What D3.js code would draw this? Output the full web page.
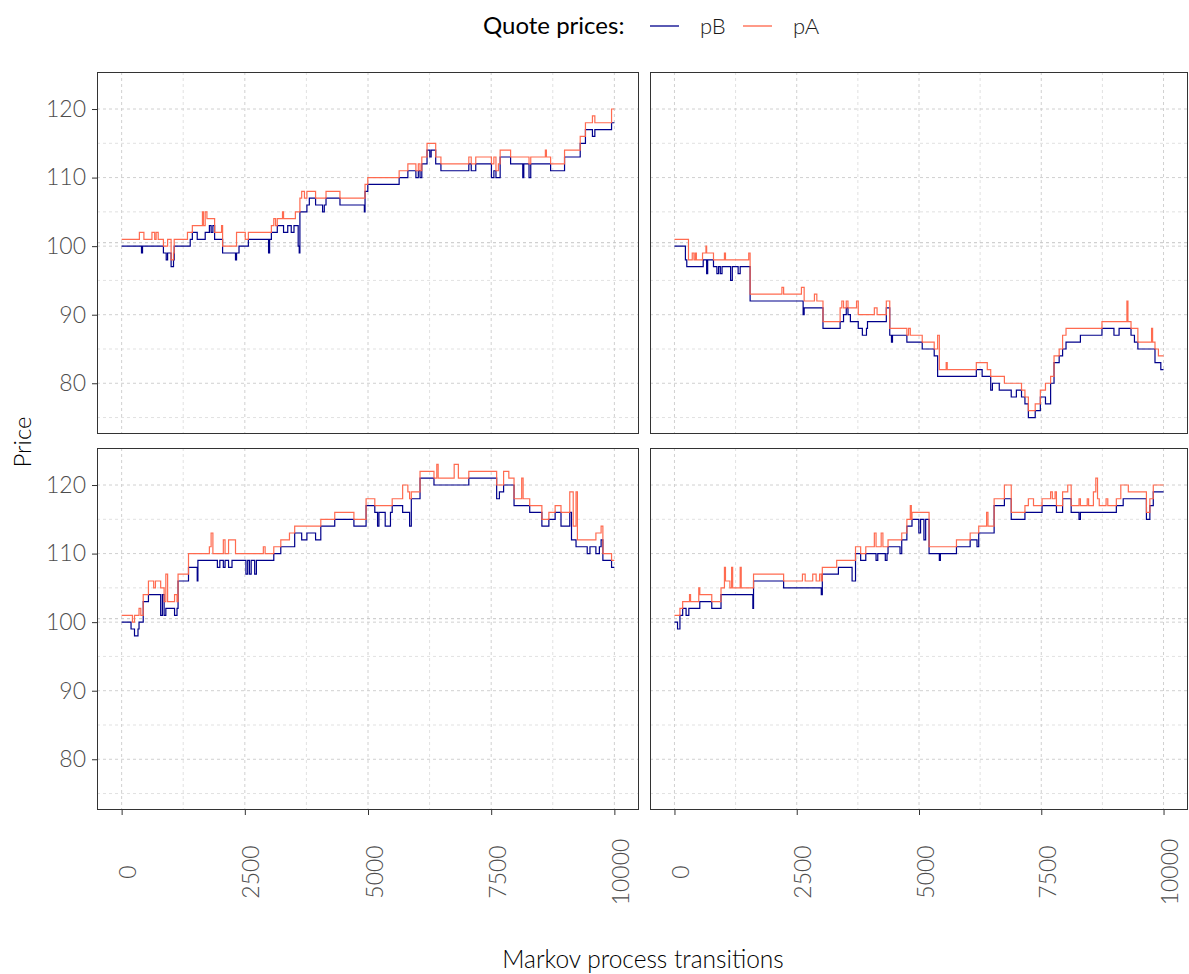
<!DOCTYPE html>
<html><head><meta charset="utf-8">
<script src="https://cdn.jsdelivr.net/npm/d3@7"></script>
<style>
body{margin:0;background:#fff}
text{font-family:Lato,"Open Sans",sans-serif}
</style>
</head><body>
<svg id="chart" width="1189" height="974"></svg>
<script>
// ---------- data (transition index of each quote change, bid pB and ask pA after it) ----------
const t1 = [0,360,403,424,452,615,671,700,742,848,
905,933,1004,1053,1067,1336,1392,1435,1534,1640,
1661,1696,1731,1781,1816,1852,1887,2028,2049,2311,
2332,2382,2509,2572,2982,3003,3039,3088,3124,3159,
3265,3286,3371,3442,3498,3526,3583,3604,3618,3654,
3710,3760,3809,3936,4078,4113,4148,4431,4926,4940,
4996,5632,5809,5972,6021,6056,6092,6198,6254,6282,
6374,6480,7046,7095,7187,7505,7555,7597,7646,7682,
7894,8141,8162,8268,8303,8600,8621,8706,8989,9307,
9413,9555,9604,9943];
const pB1 = [100,100,99,100,100,100,100,100,100,99,
98,99,97,98,100,100,101,102,101,101,
101,102,102,103,102,103,101,101,99,98,
99,100,100,101,99,101,102,102,102,103,
103,102,103,102,103,103,100,99,105,105,
105,106,107,106,105,106,107,106,105,108,
109,110,111,110,111,110,112,114,113,114,
112,111,112,111,112,110,111,110,110,113,
112,110,112,110,112,112,112,111,113,115,
117,116,117,118];
const pA1 = [101,102,102,102,101,102,101,102,101,100,
100,101,98,99,101,102,102,103,103,105,
103,105,104,104,104,104,102,103,100,100,
102,102,101,102,102,102,103,104,103,104,
105,104,104,104,104,105,105,105,107,108,
107,108,108,107,107,107,108,107,107,109,
110,111,112,111,112,111,113,115,115,115,
113,112,113,112,113,112,113,111,112,114,
113,113,113,112,113,114,113,112,114,116,
118,119,118,120];

const t2 = [0,224,252,287,364,399,427,448,574,588,
644,658,679,798,868,903,938,973,1022,1043,
1148,1183,1302,1344,1519,1547,2197,2232,2596,2631,
2652,2862,2911,3037,3387,3422,3457,3513,3548,3597,
3723,3758,3842,3926,3947,4087,4143,4332,4402,4437,
4458,4752,4787,4822,5066,5311,5381,5416,5556,5577,
6172,6291,6396,6466,6501,6641,6746,6886,6991,7096,
7166,7236,7376,7481,7586,7691,7761,7866,7936,8006,
8300,8741,8986,9091,9251,9272,9335,9405,9475,9755,
9776,9825,9895,9944];
const pB2 = [100,98,97,97,97,97,97,97,97,98,
98,96,98,97,96,97,96,97,97,97,
95,97,96,97,97,92,92,92,92,90,
91,91,91,88,89,89,90,91,90,89,
89,88,87,88,89,89,89,91,87,86,
87,86,86,86,85,84,81,81,81,81,
82,81,81,79,80,79,79,78,79,78,
77,75,76,78,77,80,83,84,85,86,
87,88,87,88,88,88,87,86,85,85,
85,83,83,82];
const pA2 = [101,101,101,98,99,98,99,98,99,99,
100,99,99,98,98,98,98,98,99,98,
98,98,98,98,99,93,94,93,94,94,
92,93,92,89,91,92,91,92,91,91,
92,90,90,90,90,91,90,92,88,88,
88,87,88,87,86,85,87,82,83,82,
83,83,82,81,81,81,80,80,80,79,
78,76,77,79,80,81,84,85,87,88,
88,89,89,89,92,89,88,88,86,88,
86,85,84,84];

const t3 = [0,191,219,261,332,353,389,438,544,650,
686,792,827,862,897,933,1074,1124,1145,1357,
1534,1548,1781,1816,1852,1943,1993,2064,2099,2170,
2240,2311,2523,2558,2594,2629,2700,2735,2876,2912,
3088,3230,3406,3512,3654,3760,3936,4042,4325,4714,
4961,5138,5194,5222,5349,5456,5491,5703,5809,5844,
5879,6056,6339,6396,6424,6749,6834,7046,7611,7667,
7752,7858,7964,8119,8148,8282,8529,8671,8798,8917,
9095,9130,9165,9222,9250,9449,9505,9625,9696,9731,
9767,9943];
const pB3 = [100,99,99,98,99,100,100,103,104,104,
104,101,104,101,102,102,101,102,106,108,
106,109,109,109,109,108,109,108,109,108,
109,109,107,109,107,109,107,109,109,109,
110,111,111,113,112,113,112,114,115,114,
117,116,114,116,114,116,117,116,116,114,
118,121,120,120,120,120,120,121,118,119,
120,120,117,117,117,116,114,115,116,114,
116,112,112,111,111,110,111,110,111,112,
109,108];
const pA3 = [101,101,100,101,101,102,101,104,106,105,
106,105,105,103,107,103,104,103,107,110,
110,110,111,113,110,110,110,112,110,112,
112,110,110,110,110,110,110,110,111,110,
111,112,113,114,114,114,114,115,116,115,
118,117,117,117,117,117,118,120,119,118,
119,122,121,123,121,123,121,122,120,120,
122,121,118,121,118,117,115,116,117,116,
119,119,114,119,112,112,112,113,113,114,
110,109];

const t4 = [0,63,112,168,238,294,308,329,497,518,
763,952,1022,1043,1134,1169,1190,1344,1365,1603,
1617,2232,2617,2673,2827,2897,2967,3002,3023,3317,
3352,3632,3702,3807,3912,4087,4122,4157,4227,4262,
4311,4346,4367,4612,4647,4752,4822,4843,4857,4997,
5032,5101,5136,5206,5416,5437,5766,6046,6186,6221,
6382,6410,6536,6746,6886,7166,7236,7341,7516,7691,
7726,7782,7810,7936,8041,8111,8272,8300,8440,8468,
8566,8615,8650,8685,8825,8860,9035,9126,9175,9280,
9650,9720,9790];
const pB4 = [100,99,101,102,101,102,102,102,102,103,
102,104,104,104,104,104,104,104,104,102,
106,105,105,105,105,105,105,104,107,107,
108,106,110,109,110,110,109,110,110,110,
109,110,111,110,112,114,114,114,115,113,
115,112,115,110,109,110,111,112,111,113,
113,113,117,118,115,116,116,116,117,117,
117,117,116,118,118,116,115,116,116,116,
116,116,116,116,116,116,117,117,118,118,
115,117,119];
const pA4 = [101,101,102,103,103,103,104,103,105,104,
103,105,108,106,105,108,105,108,105,105,
107,106,107,106,107,106,107,106,108,109,
109,109,111,110,111,113,111,111,113,111,
111,111,112,112,113,115,117,115,116,116,
116,116,116,111,111,111,112,113,113,114,
116,114,118,120,116,117,118,117,118,119,
118,119,117,119,120,117,118,117,118,117,
119,121,118,117,118,117,118,120,120,119,
116,118,120];

const tEnd = 10000;
const xTicks = [0, 2500, 5000, 7500, 10000];
const xMinor = [1250, 3750, 6250, 8750];
const yTicks = [80, 90, 100, 110, 120];
const yMinor = [75, 85, 95, 105, 115];
const refLine = 100.5;
const seriesNames = ["pB", "pA"];
const seriesColors = ["#00008B", "#FF6347"];

// ---------- layout ----------
const svg = d3.select("#chart");
const panels = [
  {t:t1, b:pB1, a:pA1, x0:97,  x1:639,  y0:72,  y1:434, left:true,  bottom:false},
  {t:t2, b:pB2, a:pA2, x0:650, x1:1188, y0:72,  y1:434, left:false, bottom:false},
  {t:t3, b:pB3, a:pA3, x0:97,  x1:639,  y0:448, y1:810, left:true,  bottom:true},
  {t:t4, b:pB4, a:pA4, x0:650, x1:1188, y0:448, y1:810, left:false, bottom:true}
];
const yDomain = [72.6, 125.4];
const xDomain = [-500, 10500];

panels.forEach((p, i) => {
  const x = d3.scaleLinear().domain(xDomain).range([p.x0, p.x1]);
  const y = d3.scaleLinear().domain(yDomain).range([p.y1, p.y0]);
  const g = svg.append("g");
  const clipId = "clip" + i;
  svg.append("clipPath").attr("id", clipId).append("rect")
    .attr("x", p.x0).attr("y", p.y0).attr("width", p.x1 - p.x0).attr("height", p.y1 - p.y0);

  // grid
  const grid = g.append("g");
  grid.selectAll(".ym").data(yMinor).join("line")
    .attr("x1", p.x0).attr("x2", p.x1).attr("y1", d => y(d)).attr("y2", d => y(d))
    .attr("stroke", "#d9d9d9").attr("stroke-width", 0.8).attr("stroke-dasharray", "3,3");
  grid.selectAll(".xm").data(xMinor).join("line")
    .attr("y1", p.y0).attr("y2", p.y1).attr("x1", d => x(d)).attr("x2", d => x(d))
    .attr("stroke", "#d9d9d9").attr("stroke-width", 0.8).attr("stroke-dasharray", "3,3");
  grid.selectAll(".yM").data(yTicks).join("line")
    .attr("x1", p.x0).attr("x2", p.x1).attr("y1", d => y(d)).attr("y2", d => y(d))
    .attr("stroke", "#d0d0d0").attr("stroke-width", 1).attr("stroke-dasharray", "3,3");
  grid.selectAll(".xM").data(xTicks).join("line")
    .attr("y1", p.y0).attr("y2", p.y1).attr("x1", d => x(d)).attr("x2", d => x(d))
    .attr("stroke", "#d0d0d0").attr("stroke-width", 1).attr("stroke-dasharray", "3,3");
  grid.append("line")
    .attr("x1", p.x0).attr("x2", p.x1).attr("y1", y(refLine)).attr("y2", y(refLine))
    .attr("stroke", "#c4c4c4").attr("stroke-width", 1).attr("stroke-dasharray", "3,3");

  // lines
  const line = d3.line().x(d => x(d[0])).y(d => y(d[1])).curve(d3.curveStepAfter);
  [p.b, p.a].forEach((vals, k) => {
    const pts = p.t.map((tt, j) => [tt, vals[j]]);
    pts.push([tEnd, vals[vals.length - 1]]);
    g.append("path").datum(pts)
      .attr("clip-path", `url(#${clipId})`)
      .attr("d", line).attr("fill", "none")
      .attr("stroke", seriesColors[k]).attr("stroke-width", 1.2)
      .attr("stroke-opacity", k === 1 ? 0.95 : 1);
  });

  // border
  g.append("rect").attr("x", p.x0 + 0.5).attr("y", p.y0 + 0.5)
    .attr("width", p.x1 - p.x0 - 1).attr("height", p.y1 - p.y0 - 1)
    .attr("fill", "none").attr("stroke", "#333").attr("stroke-width", 1);

  // axes
  if (p.left) {
    const ax = g.append("g").attr("transform", `translate(${p.x0},0)`)
      .call(d3.axisLeft(y).tickValues(yTicks).tickSize(5).tickPadding(6));
    ax.select(".domain").remove();
    ax.selectAll("line").attr("stroke", "#333");
    ax.selectAll("text").attr("font-size", 23).attr("fill", "#4d4d4d")
      .attr("font-weight", 300).attr("font-family", "Lato, 'Open Sans', sans-serif");
  }
  if (p.bottom) {
    const ax = g.append("g").attr("transform", `translate(0,${p.y1})`)
      .call(d3.axisBottom(x).tickValues(xTicks).tickSize(5).tickFormat(d3.format("d")));
    ax.select(".domain").remove();
    ax.selectAll("line").attr("stroke", "#333");
    ax.selectAll("text").attr("font-size", 23).attr("fill", "#4d4d4d")
      .attr("font-weight", 300).attr("font-family", "Lato, 'Open Sans', sans-serif")
      .attr("y", null).attr("dy", "0.35em")
      .attr("text-anchor", "middle")
      .attr("transform", "translate(6,62) rotate(-90)");
  }
});

// axis titles
svg.append("text").attr("x", 643).attr("y", 968).attr("text-anchor", "middle")
  .attr("font-size", 24.5).attr("fill", "#000").attr("font-weight", 300)
  .text("Markov process transitions");
svg.append("text").attr("transform", "translate(31,442) rotate(-90)").attr("text-anchor", "middle")
  .attr("font-size", 24).attr("fill", "#000").attr("font-weight", 300)
  .text("Price");

// legend
const lg = svg.append("g");
lg.append("text").attr("x", 483).attr("y", 34).attr("font-size", 24).attr("fill", "#000")
  .attr("font-weight", 400).text("Quote prices:");
const legX = [650, 743];
seriesNames.forEach((n, k) => {
  lg.append("line").attr("x1", legX[k]).attr("x2", legX[k] + 29).attr("y1", 26).attr("y2", 26)
    .attr("stroke", seriesColors[k]).attr("stroke-width", 1.3);
  lg.append("text").attr("x", legX[k] + 50).attr("y", 34).attr("font-size", 22)
    .attr("fill", "#1a1a1a").attr("font-weight", 300).text(n);
});
</script>
</body></html>
